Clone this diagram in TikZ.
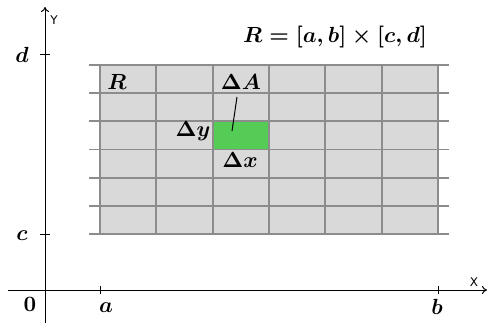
\documentclass[tikz,border=0pt]{standalone}
\usepackage{fontspec}
\usepackage{amsmath}
\newfontfamily\axfont{DejaVu Sans}
\usetikzlibrary{arrows.meta}
\definecolor{cellgray}{HTML}{D9D9D9}
\definecolor{gridline}{HTML}{8C8C8C}
\definecolor{cellgreen}{HTML}{55CC55}
\definecolor{cellgreenb}{HTML}{3FB83F}
\tikzset{
  axis/.style={draw=black, line width=0.5pt, -{To[length=2.5pt,width=4pt]}},
  gridl/.style={draw=gridline, line width=0.9pt},
  tickl/.style={draw=black, line width=0.5pt},
  lab/.style={inner sep=0pt, font=\fontsize{11}{13}\selectfont\boldmath},
  axlab/.style={inner sep=0pt, font=\axfont\fontsize{6}{7}\selectfont},
}
\begin{document}
\begin{tikzpicture}[x=0.5pt,y=-0.5pt]
\useasboundingbox (0,0) rectangle (488,323);
% gray region
\fill[cellgray] (100,65) rectangle (438,234);
% green cell
\filldraw[fill=cellgreen, draw=cellgreenb, line width=0.9pt] (213,121.3) rectangle (269.3,149.5);
% grid lines
\foreach \k in {0,...,6} {
  \draw[gridl] (89,{65+\k*28.17}) -- (449,{65+\k*28.17});
  \draw[gridl] ({100+\k*56.33},65) -- ({100+\k*56.33},234);
}
% axes
\coordinate (xs) at (8,290);
\coordinate (xe) at (487,290);
\coordinate (ys) at (45,323);
\coordinate (ye) at (45,7);
\draw[axis] (xs) -- (xe);
\draw[axis] (ys) -- (ye);
\node[axlab] (Y) at (54,20) {Y};
\node[axlab] (X) at (474,282) {X};
% ticks
\draw[tickl] (40,54) -- (50,54);
\draw[tickl] (40,234) -- (50,234);
\draw[tickl] (100,286) -- (100,294);
\draw[tickl] (438,286) -- (438,294);
% labels
\node[lab] (d) at (22,55) {$d$};
\node[lab] (c) at (22,236) {$c$};
\node[lab] (o) at (30,304) {$0$};
\node[lab] (a) at (106,308) {$a$};
\node[lab] (b) at (437,307) {$b$};
\node[lab] (title) at (335,37) {$R=[a,b]\times[c,d]$};
\node[lab] (R) at (117,82) {$R$};
\node[lab] (dA) at (241,82) {$\Delta A$};
\node[lab] (dy) at (193,131) {$\Delta y$};
\node[lab] (dx) at (240,160) {$\Delta x$};
\coordinate (dAstart) at (237,97);
\coordinate (dAend) at (232,131);
\draw[line width=0.5pt] (dAstart) -- (dAend);
\end{tikzpicture}
\end{document}
